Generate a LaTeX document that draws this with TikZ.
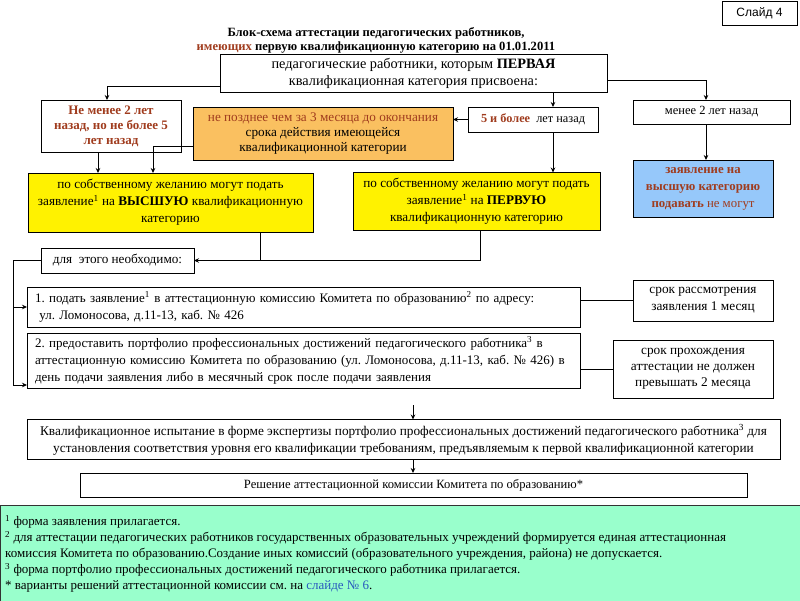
\documentclass[tikz,border=0pt]{standalone}
\usepackage{fontspec}
\setmainfont{Liberation Serif}
\setsansfont{Liberation Sans}
\usepackage{xcolor}
\usetikzlibrary{arrows.meta,calc,positioning}
\definecolor{brick}{RGB}{160,60,30}
\definecolor{apricot}{RGB}{250,192,96}
\definecolor{sky}{RGB}{150,200,250}
\definecolor{mint}{RGB}{153,255,204}
\definecolor{linkblue}{RGB}{40,90,190}
\newcommand{\fsz}[2]{\fontsize{#1}{#2}\selectfont}
\frenchspacing
\tikzset{>={Stealth[length=5pt,width=4.5pt]},
	block/.style={% boxes of the scheme, sizes given per node
		draw, rectangle,
		line width=0.8pt,
		inner sep=2pt,
		outer sep=0pt,
		align=center,
		font=\fsz{13.2}{15}
	},
	leftblock/.style={
		block,
		align=left,
		inner xsep=8pt
	}
}
\begin{document}
\begin{tikzpicture}[x=1pt,y=-1pt,
                        link/.style={line width=0.8pt}]
                        \useasboundingbox (0,0) rectangle (800,600);
                        \node [block, font=\sffamily\fsz{12}{14}, minimum width=75pt, minimum height=24pt] (slide) at (759.5,13) {Слайд 4};
                        \node [align=center, font=\bfseries\fsz{12.6}{14}] (title) at (376,40) {Блок-схема аттестации педагогических работников,\\\textcolor{brick}{имеющих} первую квалификационную категорию на 01.01.2011};
                        \node [block, font=\fsz{14.3}{17}, minimum width=387pt, minimum height=38pt] (holders) at (413.5,73) {педагогические работники, которым \textbf{ПЕРВАЯ}\\квалификационная категория присвоена:};
                        \node [block, font=\bfseries\fsz{13}{15}, text=brick, minimum width=140pt, minimum height=52pt] (senior) at (111,126) {Не менее 2 лет\\назад, но не более 5\\лет назад};
                        \node [block, fill=apricot, minimum width=260pt, minimum height=53pt] (deadline) at (323,133.5) {\textcolor{brick}{не позднее чем за 3 месяца до окончания}\\срока действия имеющейся\\квалификационной категории};
                        \node [block, font=\fsz{12.3}{15}, minimum width=130pt, minimum height=25pt] (five) at (533,119.5) {\textcolor{brick}{\textbf{5 и более}}\ \ лет назад};
                        \node [block, font=\fsz{12.5}{15}, minimum width=157pt, minimum height=24pt] (recent) at (711.5,112) {менее 2 лет назад};
                        \node [block, fill=sky, text=brick, font=\fsz{12.8}{17}, minimum width=140pt, minimum height=57pt] (refused) at (703,188.5) {\textbf{заявление на}\\\textbf{высшую категорию}\\\textbf{подавать} не могут};
                        \node [block, fill=yellow, font=\fsz{13.2}{17}, minimum width=285pt, minimum height=59pt] (higher) at (170.5,202.5) {по собственному желанию могут подать\\заявление\textsuperscript{1} на \textbf{ВЫСШУЮ} квалификационную\\категорию};
                        \node [block, fill=yellow, font=\fsz{13.2}{17}, minimum width=247pt, minimum height=58pt] (same) at (476.5,201.5) {по собственному желанию могут подать\\заявление\textsuperscript{1} на \textbf{ПЕРВУЮ}\\квалификационную категорию};
                        \node [block, minimum width=153pt, minimum height=25pt] (needed) at (117.5,260.5) {для\ \ этого необходимо:};
                        \node [leftblock, text width=537pt, minimum height=40pt, font=\fsz{13}{17}] (apply) at (303.5,307) {1. подать заявление\textsuperscript{1} в аттестационную комиссию Комитета по образованию\textsuperscript{2} по адресу:\\\ ул. Ломоносова, д.11-13, каб. №~426};
                        \node [leftblock, text width=537pt, minimum height=55pt, font=\fsz{13}{17}] (portfolio) at (303.5,360.5) {2. предоставить портфолио профессиональных достижений педагогического работника\textsuperscript{3} в\\аттестационную комиссию Комитета по образованию (ул. Ломоносова, д.11-13, каб. №~426) в\\день подачи заявления либо в месячный срок после подачи заявления};
                        \node [block, font=\fsz{13.3}{17}, minimum width=140pt, minimum height=41pt] (term1) at (703,300.5) {срок рассмотрения\\заявления 1 месяц};
                        \node [block, font=\fsz{13.3}{16}, minimum width=160pt, minimum height=58pt] (term2) at (693,369) {срок прохождения\\аттестации не должен\\превышать 2 месяца};
                        \node [block, font=\fsz{13.3}{17}, minimum width=753pt, minimum height=40pt] (exam) at (403.5,439.5) {Квалификационное испытание в форме экспертизы портфолио профессиональных достижений педагогического работника\textsuperscript{3} для\\установления соответствия уровня его квалификации требованиям, предъявляемым к первой квалификационной категории};
                        \node [block, font=\fsz{12.6}{15}, minimum width=667pt, minimum height=24pt] (decision) at (413.5,485) {Решение аттестационной комиссии Комитета по образованию*};
                        \coordinate (rail) at (needed.west -| 13,0);
                        \coordinate (gap) at (413,405);
                        \draw [link, ->] ([yshift=6pt]holders.south west) -| ([xshift=-4pt]senior.north);
                        \draw [link, ->] ([yshift=12pt]holders.south east) -| ([xshift=-5.5pt]recent.north);
                        \draw [link, ->] (holders.south -| 553,0) -- (five.north -| 553,0);
                        \draw [link, ->] (five.west) -- (five.west -| deadline.east);
                        \draw [link, ->] (five.south -| 553,0) -- (same.north -| 553,0);
                        \draw [link, ->] ([xshift=-13pt]senior.south) -- ([xshift=-13pt]senior.south |- higher.north);
                        \draw [link, ->] ([yshift=-13pt]deadline.west) -| (higher.north -| 153,0);
                        \draw [link, ->] (recent.south -| refused.north) ++(3,0) -- ([xshift=3pt]refused.north);
                        \draw [link] (higher.south -| 260,0) -- (needed.east -| 260,0);
                        \draw [link, ->] (same.south -| 480,0) |- (needed.east);
                        \draw [link, ->] (needed.west) -- (rail) |- ([yshift=3pt]portfolio.south west);
                        \draw [link, ->] (rail |- apply.west) -- (apply.west);
                        \draw [link] (apply.east |- term1.west) -- (term1.west);
                        \draw [link] (portfolio.east |- term2.west) -- (term2.west);
                        \draw [link, ->] (gap) -- (gap |- exam.north);
                        \draw [link, ->] (exam.south -| 413,0) -- (decision.north -| 413,0);
                        \draw [fill=mint, draw=black!80, line width=1pt] (0,505) rectangle (801,601);
                        \node [anchor=north west, align=left, inner sep=0pt, font=\fsz{13}{16}] (notes) at (5,515) {\textsuperscript{1} форма заявления прилагается.\\\textsuperscript{2} для аттестации педагогических работников государственных образовательных учреждений формируется единая аттестационная\\комиссия Комитета по образованию.Создание иных комиссий (образовательного учреждения, района) не допускается.\\\textsuperscript{3} форма портфолио профессиональных достижений педагогического работника прилагается.\\* варианты решений аттестационной комиссии см. на \textcolor{linkblue}{слайде №~6}.};
                \end{tikzpicture}
\end{document}
